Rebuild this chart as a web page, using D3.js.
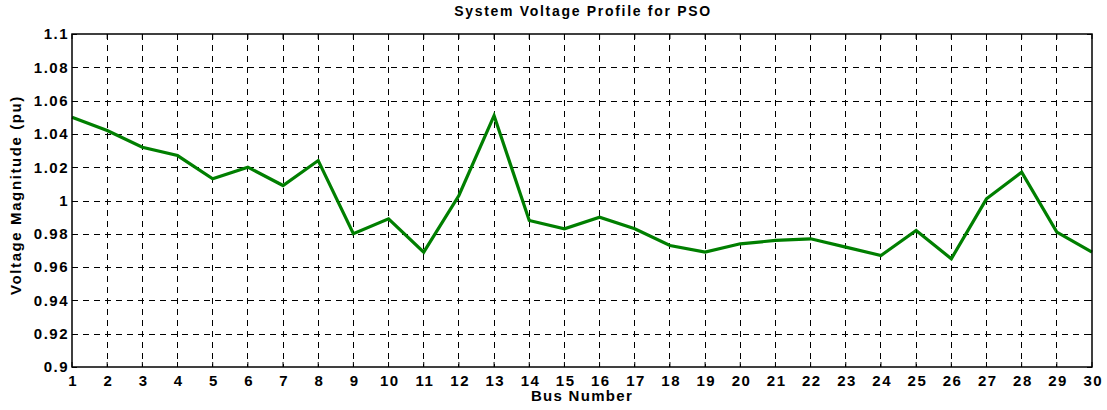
<!DOCTYPE html>
<html><head><meta charset="utf-8">
<script src="https://cdn.jsdelivr.net/npm/d3@7"></script>
<style>body{margin:0;background:#fff}svg{display:block}text{font-family:"Liberation Sans",Arial,sans-serif;font-weight:bold;fill:#000}</style>
</head><body><svg id="c" width="1107" height="410"></svg>
<script>
const buses = d3.range(1, 31);
const voltage = [1.050,1.042,1.032,1.027,1.013,1.020,1.009,1.024,0.980,0.989,
                 0.969,1.003,1.051,0.988,0.983,0.990,0.983,0.973,0.969,0.974,
                 0.976,0.977,0.972,0.967,0.982,0.965,1.001,1.017,0.981,0.969];
const yTicks = [0.9,0.92,0.94,0.96,0.98,1,1.02,1.04,1.06,1.08,1.1];
const yTickLabels = ["0.9","0.92","0.94","0.96","0.98","1","1.02","1.04","1.06","1.08","1.1"];
const titleText = "System Voltage Profile for PSO";
const xLabel = "Bus Number";
const yLabel = "Voltage Magnitude (pu)";

const svg = d3.select("#c");
const L = 72, R = 1092, T = 34, B = 367;
const x = d3.scaleLinear().domain([1, 30]).range([L, R]);
const y = d3.scaleLinear().domain([0.9, 1.1]).range([B, T]);

// grid
const g = svg.append("g");
g.selectAll("line.vg").data(buses.slice(1, -1)).join("line")
  .attr("x1", d => x(d)).attr("x2", d => x(d)).attr("y1", T).attr("y2", B)
  .attr("stroke", "#000").attr("stroke-width", 1).attr("stroke-dasharray", "6,5")
  .attr("shape-rendering", "crispEdges");
g.selectAll("line.hg").data(yTicks.slice(1, -1)).join("line")
  .attr("y1", d => Math.round(y(d)) + 0.5).attr("y2", d => Math.round(y(d)) + 0.5).attr("x1", L).attr("x2", R)
  .attr("stroke", "#000").attr("stroke-width", 1).attr("stroke-dasharray", "6,5");

// inner ticks on all sides
const tl = 5;
buses.forEach(b => {
  g.append("line").attr("x1", x(b)).attr("x2", x(b)).attr("y1", B).attr("y2", B - tl).attr("stroke", "#000");
  g.append("line").attr("x1", x(b)).attr("x2", x(b)).attr("y1", T).attr("y2", T + tl).attr("stroke", "#000");
});
yTicks.forEach(v => {
  const yy = Math.round(y(v)) + 0.5;
  g.append("line").attr("x1", L).attr("x2", L + tl).attr("y1", yy).attr("y2", yy).attr("stroke", "#000");
  g.append("line").attr("x1", R).attr("x2", R - tl).attr("y1", yy).attr("y2", yy).attr("stroke", "#000");
});

const font = '"Liberation Sans",Arial,sans-serif';
// axes labels via d3 axes
const xAxis = d3.axisBottom(x).tickValues(buses).tickSize(0).tickPadding(8).tickFormat(d3.format("d"));
svg.append("g").attr("transform", `translate(0,${B})`).call(xAxis)
  .call(s => s.select(".domain").remove())
  .selectAll("text").style("font-size", "15px").style("font-family", font).style("font-weight", "bold")
  .style("letter-spacing", "1.5px").attr("dx", "0.75px");
const yAxis = d3.axisLeft(y).tickValues(yTicks).tickSize(0).tickPadding(3).tickFormat((d, i) => yTickLabels[i]);
svg.append("g").attr("transform", `translate(${L},0)`).call(yAxis)
  .call(s => s.select(".domain").remove())
  .selectAll("text").style("font-size", "15px").style("font-family", font).style("font-weight", "bold")
  .style("letter-spacing", "1.5px");

// data line
svg.append("path").datum(voltage)
  .attr("d", d3.line().x((d, i) => x(buses[i])).y(d => y(d)))
  .attr("fill", "none").attr("stroke", "#007f00").attr("stroke-width", 3.2).attr("stroke-linejoin", "miter");

// box
svg.append("rect").attr("x", L).attr("y", T).attr("width", R - L).attr("height", B - T)
  .attr("fill", "none").attr("stroke", "#000").attr("stroke-width", 1.5);

// titles
svg.append("text").attr("x", 583).attr("y", 16).attr("text-anchor", "middle")
  .style("font-size", "14px").style("letter-spacing", "1.7px").text(titleText);
svg.append("text").attr("x", 582).attr("y", 401).attr("text-anchor", "middle")
  .style("font-size", "15px").style("letter-spacing", "1.3px").text(xLabel);
svg.append("text").attr("transform", "translate(21,195) rotate(-90)").attr("text-anchor", "middle")
  .style("font-size", "15px").style("letter-spacing", "1.6px").text(yLabel);
</script></body></html>
